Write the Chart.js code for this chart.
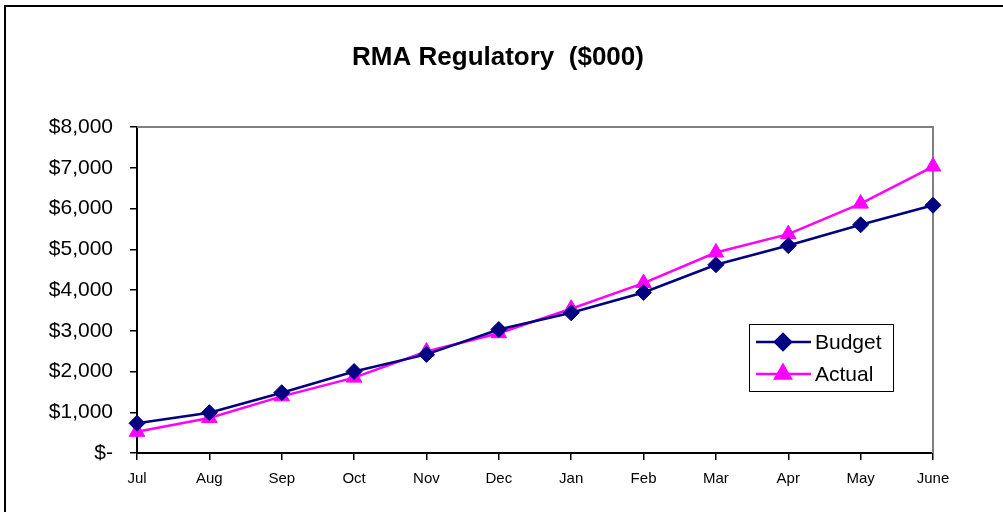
<!DOCTYPE html>
<html>
<head>
<meta charset="utf-8">
<title>RMA Regulatory</title>
<script src="https://cdn.jsdelivr.net/npm/chart.js@4"></script>
<style>
  html, body { margin: 0; padding: 0; background: #fff; }
  #wrap { width: 1003px; height: 512px; }
</style>
</head>
<body>
<div id="wrap"><canvas id="rmaChart" width="1003" height="512"></canvas></div>
<script>
// month labels and series values ($000)
const months = ['Jul', 'Aug', 'Sep', 'Oct', 'Nov', 'Dec', 'Jan', 'Feb', 'Mar', 'Apr', 'May', 'June'];
const budget = [730, 990, 1480, 2000, 2420, 3030, 3440, 3940, 4620, 5090, 5600, 6080];
const actual = [520, 860, 1390, 1850, 2490, 2940, 3540, 4170, 4920, 5370, 6120, 7030];
const yTicks = [0, 1000, 2000, 3000, 4000, 5000, 6000, 7000, 8000];

const FONT = '"Liberation Sans", Arial, sans-serif';

// title, outer frame, gray plot frame and a boxed legend
const decor = {
    id: 'decor',
    beforeDatasetsDraw(chart) {
        const { ctx, chartArea: a } = chart;
        ctx.save();
        // gray top + right edge of plot area
        ctx.strokeStyle = '#808080';
        ctx.lineWidth = 2;
        ctx.beginPath();
        ctx.moveTo(a.left, a.top);
        ctx.lineTo(a.right, a.top);
        ctx.lineTo(a.right, a.bottom);
        ctx.stroke();
        ctx.restore();
    },
    afterDraw(chart) {
        const { ctx } = chart;
        ctx.save();
        // outer frame (only left/top are inside the picture)
        ctx.strokeStyle = '#000';
        ctx.lineWidth = 2;
        ctx.beginPath();
        ctx.moveTo(5, 520);
        ctx.lineTo(5, 6);
        ctx.lineTo(1010, 6);
        ctx.stroke();

        // title
        ctx.fillStyle = '#000';
        ctx.font = 'bold 26px ' + FONT;
        ctx.textAlign = 'center';
        ctx.textBaseline = 'middle';
        ctx.fillText('RMA Regulatory  ($000)', 498, 58);

        // legend box
        const bx = 749, by = 324, bw = 144, bh = 67;
        ctx.fillStyle = '#fff';
        ctx.fillRect(bx, by, bw, bh);
        ctx.strokeStyle = '#000';
        ctx.lineWidth = 1;
        ctx.strokeRect(bx + 0.5, by + 0.5, bw, bh);

        const rows = [342, 374];
        chart.data.datasets.forEach((ds, i) => {
            const y = rows[i];
            ctx.strokeStyle = ds.borderColor;
            ctx.lineWidth = ds.borderWidth;
            ctx.beginPath();
            ctx.moveTo(756, y);
            ctx.lineTo(811, y);
            ctx.stroke();
            Chart.helpers.drawPoint(ctx, {
                pointStyle: ds.pointStyle,
                radius: ds.pointRadius,
                borderWidth: 1
            }, 783, y);
            ctx.fillStyle = ds.pointBackgroundColor;
            ctx.strokeStyle = ds.pointBorderColor;
            ctx.fill();
            ctx.fillStyle = '#000';
            ctx.font = '21px ' + FONT;
            ctx.textAlign = 'left';
            ctx.textBaseline = 'middle';
            ctx.fillText(ds.label, 815, y + 1);
        });
        ctx.restore();
    }
};

const ctx = document.getElementById('rmaChart').getContext('2d');

new Chart(ctx, {
    type: 'line',
    data: {
        labels: months,
        datasets: [
            {
                label: 'Budget',
                data: budget,
                borderColor: '#000080',
                borderWidth: 2.5,
                pointStyle: 'rectRot',
                pointRadius: 8,
                pointBackgroundColor: '#000080',
                pointBorderColor: '#000080',
                pointBorderWidth: 1,
                tension: 0,
                clip: false,
            },
            {
                label: 'Actual',
                data: actual,
                borderColor: '#FF00FF',
                borderWidth: 2.5,
                pointStyle: 'triangle',
                pointRadius: 9,
                pointBackgroundColor: '#FF00FF',
                pointBorderColor: '#FF00FF',
                pointBorderWidth: 1,
                tension: 0,
                clip: false,
            }
        ]
    },
    options: {
        responsive: false,
        animation: false,
        layout: { padding: { top: 127, right: 70, bottom: 0, left: 0 } },
        plugins: {
            legend: { display: false },
            title: { display: false },
            tooltip: { enabled: false },
        },
        scales: {
            x: {
                offset: false,
                grid: { drawOnChartArea: false, color: '#000', tickLength: 7, lineWidth: 1.5 },
                border: { color: '#000', width: 2 },
                ticks: { color: '#000', font: { family: FONT, size: 15 }, padding: 10, maxRotation: 0, autoSkip: false },
                afterFit(scale) { scale.height = 59; },
            },
            y: {
                min: 0,
                max: 8000,
                afterBuildTicks(scale) { scale.ticks = yTicks.map(v => ({ value: v })); },
                grid: { drawOnChartArea: false, color: '#000', tickLength: 7, lineWidth: 1.5 },
                border: { color: '#000', width: 2 },
                ticks: {
                    color: '#000',
                    font: { family: FONT, size: 21 },
                    padding: 17,
                    callback: v => v === 0 ? '$-' : '$' + v.toLocaleString('en-US'),
                },
                afterFit(scale) { scale.width = 137; },
            }
        }
    },
    plugins: [decor]
});
</script>
</body>
</html>
